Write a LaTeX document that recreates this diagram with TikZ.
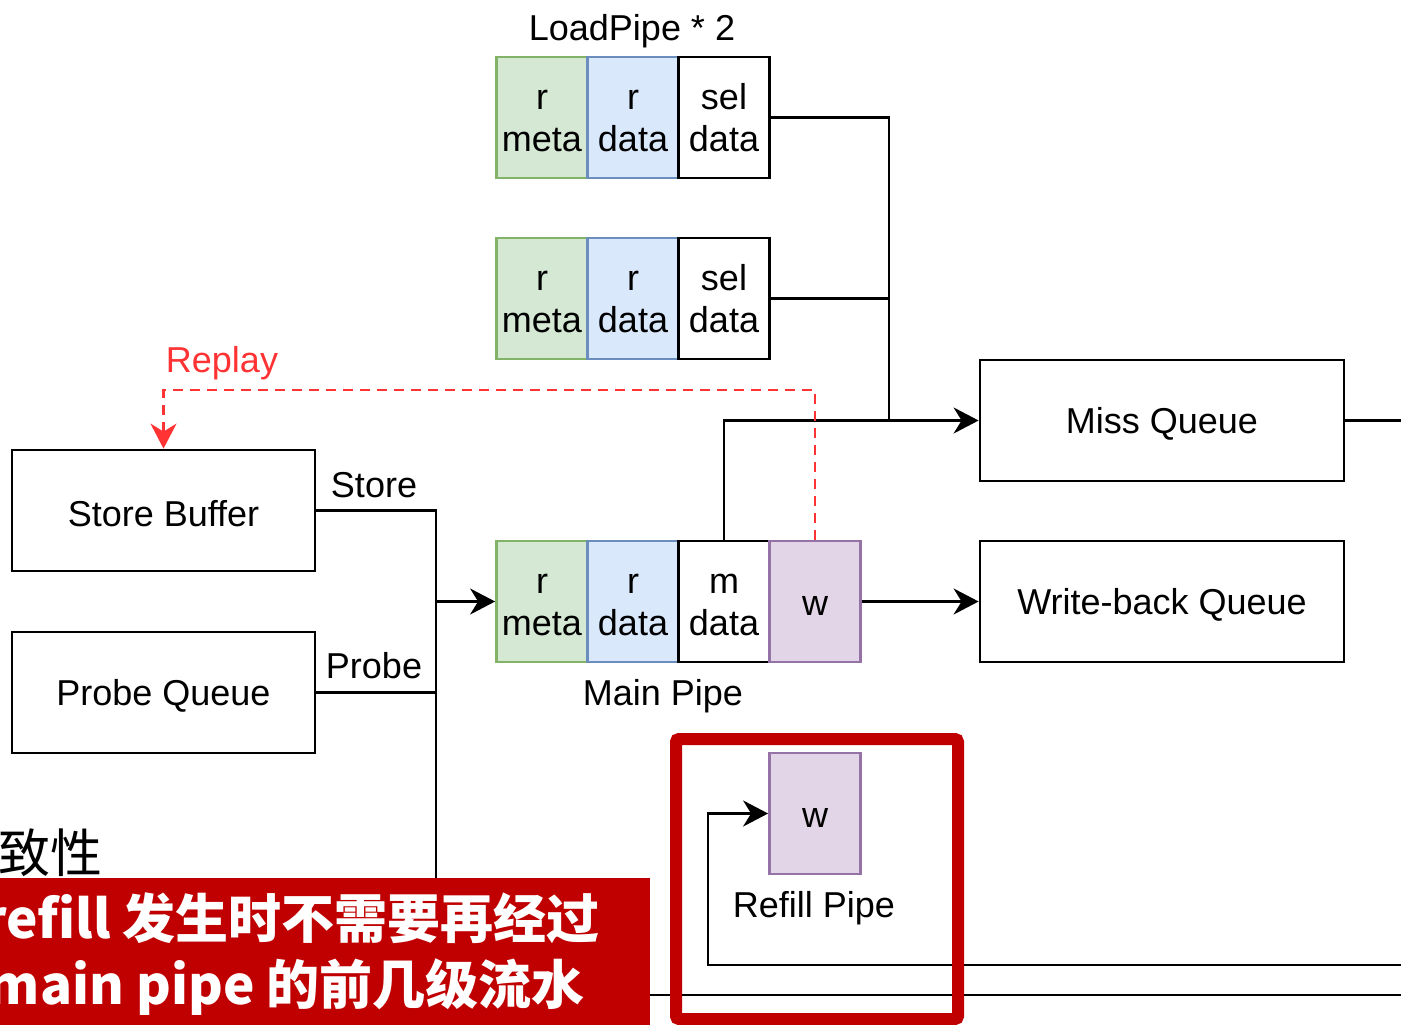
\documentclass[tikz,border=0pt]{standalone}
\usepackage{fontspec}
\setmainfont{Liberation Sans}
\newfontfamily\cjk{Noto Sans CJK SC}
\usetikzlibrary{arrows.meta}

\definecolor{metafill}{HTML}{D5E8D4}
\definecolor{metaline}{HTML}{82B366}
\definecolor{datafill}{HTML}{DAE8FC}
\definecolor{dataline}{HTML}{6C8EBF}
\definecolor{wfill}{HTML}{E1D5E7}
\definecolor{wline}{HTML}{9673A6}
\definecolor{replayred}{HTML}{FF3333}
\definecolor{hlred}{HTML}{C00000}

\tikzset{
  txt/.style={font=\fontsize{36}{42}\selectfont, inner sep=0pt, align=center, yshift=-3pt},
  lbl/.style={txt, yshift=-1pt},
  lbltwo/.style={txt, yshift=5pt},
  cell/.style={draw, line width=2.8pt, minimum width=91pt, minimum height=121pt, inner sep=0pt},
  metacell/.style={cell, fill=metafill, draw=metaline},
  datacell/.style={cell, fill=datafill, draw=dataline},
  wcell/.style={cell, fill=wfill, draw=wline},
  queue/.style={draw, line width=2.8pt, minimum height=121pt, inner sep=0pt},
  wire/.style={line width=2.8pt},
  tip/.style={-{Stealth[length=25pt,width=26pt,inset=8pt]}},
}

\begin{document}
\begin{tikzpicture}[x=1pt,y=-1pt]
\useasboundingbox (0,0) rectangle (1401,1025);
\clip (0,0) rectangle (1401,1025);

% load pipes
\node[txt] (lplabel) at (632,28) {LoadPipe * 2};
\node[metacell, label={[lbltwo]center:{\strut r\\meta}}] (lp1m) at (542,117.5) {};
\node[datacell, label={[lbltwo]center:{\strut r\\data}}] (lp1d) at (633,117.5) {};
\node[cell, label={[lbltwo]center:{\strut sel\\data}}] (lp1s) at (724,117.5) {};
\node[metacell, label={[lbltwo]center:{\strut r\\meta}}] (lp2m) at (542,298.5) {};
\node[datacell, label={[lbltwo]center:{\strut r\\data}}] (lp2d) at (633,298.5) {};
\node[cell, label={[lbltwo]center:{\strut sel\\data}}] (lp2s) at (724,298.5) {};

% main pipe
\node[metacell, label={[lbltwo]center:{\strut r\\meta}}] (mpm) at (542,601.5) {};
\node[datacell, label={[lbltwo]center:{\strut r\\data}}] (mpd) at (633,601.5) {};
\node[cell, label={[lbltwo]center:{\strut m\\data}}] (mps) at (724,601.5) {};
\node[wcell, label={[lbl]center:w}] (mpw) at (815,601.5) {};
\node[txt] (mplabel) at (663,693) {Main Pipe};

% refill pipe
\node[wcell, label={[lbl]center:w}] (rfw) at (815,813.5) {};
\node[txt] (rflabel) at (814,905) {Refill Pipe};

% queues
\node[queue, minimum width=303pt, label={[txt]center:Store Buffer}] (sb) at (163.5,510.5) {};
\node[queue, minimum width=303pt, label={[txt]center:Probe Queue}] (pq) at (163.5,692.5) {};
\node[queue, minimum width=364pt, label={[txt]center:Miss Queue}] (mq) at (1162,420.5) {};
\node[queue, minimum width=364pt, label={[txt]center:Write-back Queue}] (wbq) at (1162,601.5) {};

\node[txt] (storelbl) at (374,482) {Store};
\node[txt] (probelbl) at (374,663) {Probe};
\node[txt, text=replayred] (replaylbl) at (222,360) {Replay};

\coordinate (jn) at (889,420.5);
\coordinate (bus) at (436,510.5);
\coordinate (busend) at (436,995);
\coordinate (busout) at (1410,995);
\coordinate (mqout) at (1410,420.5);
\coordinate (rfin) at (1410,965);
\coordinate (rfturn) at (708,965);
\coordinate (rp) at (815,390);

\draw[wire] (lp1s.east) -| (jn);
\draw[wire] (lp2s.east) -| (jn);
\draw[wire, tip] (mps.north) |- (mq.west);
\draw[wire] (mq.east) -- (mqout);
\draw[wire, tip] (mpw.east) -- (wbq.west);
\draw[wire] (sb.east) -| (busend) -- (busout);
\draw[wire] (pq.east) -- (pq.east -| bus);
\draw[wire, tip] (bus |- mpm.west) -- (mpm.west);
\draw[wire, tip] (rfin) -- (rfturn) |- (rfw.west);
\draw[wire, replayred, dash pattern=on 10pt off 7pt, -{Stealth[length=25pt,width=26pt,inset=8pt]}] (mpw.north) -- (rp) -| (sb.north);

% highlight
\draw[hlred, line width=12pt, rounded corners=3pt] (676,739) rectangle (958,1019);

\node[anchor=base east, inner sep=0pt, font=\cjk\fontsize{52}{60}\selectfont] (note) at (103,872) {致性};
\fill[hlred] (0,878) rectangle (650,1030);
\node[anchor=base east, inner sep=0pt, text=white, font=\cjk\bfseries\fontsize{53}{66}\selectfont] (bn1) at (600,938) {refill 发生时不需要再经过};
\node[anchor=base east, inner sep=0pt, text=white, font=\cjk\bfseries\fontsize{53}{66}\selectfont] (bn2) at (585,1004) {main pipe 的前几级流水};
\end{tikzpicture}
\end{document}
